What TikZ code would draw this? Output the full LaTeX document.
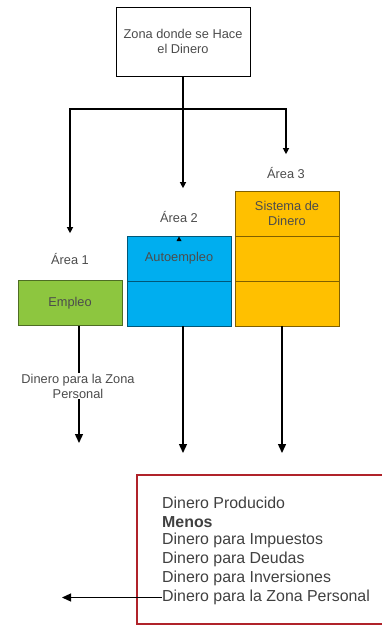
\documentclass[tikz,border=0pt]{standalone}
\usepackage{fontspec}
\setmainfont{Liberation Sans}
\usetikzlibrary{arrows.meta,positioning}
\definecolor{verde}{HTML}{8DC63F}
\definecolor{azul}{HTML}{00AEEF}
\definecolor{oro}{HTML}{FFC000}
\definecolor{rojo}{HTML}{B0232A}
\tikzset{
  etiqueta/.style={font=\fontsize{12.8}{15}\selectfont, text=black!70, align=center, inner sep=0pt},
  celda/.style={etiqueta, minimum width=104pt, minimum height=45pt, line width=0.9pt},
  flecha/.style={line width=1.4pt, -{Triangle[width=8pt,length=9pt]}},
  flechita/.style={line width=1.2pt, -{Triangle[width=6pt,length=6pt]}},
  linea/.style={anchor=west, inner sep=0pt, font=\fontsize{15.9}{18}\selectfont, text=black!75}
}
\begin{document}
\begin{tikzpicture}[x=1pt,y=-1pt]
  \useasboundingbox (0,0) rectangle (381,628);
  % zona de arriba
  \node[draw, etiqueta, minimum width=134pt, minimum height=69pt, line width=0.9pt] (zona) at (183,41.5) {Zona donde se Hace\\el Dinero};
  \coordinate (nudo) at (183,109);
  % areas
  \node[etiqueta] (a1) at (70,259) {Área 1};
  \node[etiqueta] (a2) at (179,217) {Área 2};
  \node[etiqueta] (a3) at (286,173) {Área 3};
  \node[celda, fill=verde, draw=verde!55!black] (empleo) at (70,303) {Empleo};
  \node[celda, fill=azul, draw=azul!50!black] (auto) at (179,258.5) {Autoempleo};
  \node[celda, fill=azul, draw=azul!50!black] (azul2) at (179,303.5) {};
  \node[celda, fill=oro, draw=oro!50!black] (sistema) at (287,213.5) {Sistema de\\Dinero};
  \node[celda, fill=oro, draw=oro!50!black] (oro2) at (287,258.5) {};
  \node[celda, fill=oro, draw=oro!50!black] (oro3) at (287,303.5) {};
  \fill (179,236.5) -- (176.5,241) -- (181.5,241) -- cycle;
  % ramas
  \draw[line width=1.2pt] (zona.south) -- (nudo);
  \draw[flechita, shorten >=20pt] (nudo) -| (a1.north);
  \draw[flechita, shorten >=23pt] (nudo) -- (nudo |- a2.north);
  \draw[flechita, shorten >=13pt] (nudo) -| (a3.north);
  % dinero hacia abajo
  \coordinate (fin1) at (79,443);
  \coordinate (fin2) at (183,453);
  \coordinate (fin3) at (282,453);
  \draw[flecha] (empleo.south -| fin1) -- (fin1);
  \draw[flecha] (azul2.south -| fin2) -- (fin2);
  \draw[flecha] (oro3.south -| fin3) -- (fin3);
  \node[etiqueta, fill=white, inner sep=1pt] (zonap) at (78,386) {Dinero para la Zona\\Personal};
  % resumen
  \node[draw=rojo, line width=1.6pt, minimum width=248pt, minimum height=149pt] (resumen) at (261,549.5) {};
  \foreach \t [count=\i] in {Dinero Producido, {\textbf{Menos}}, Dinero para Impuestos, Dinero para Deudas, Dinero para Inversiones, Dinero para la Zona Personal}
    \node[linea] (l\i) at (162,{503+18.9*(\i-1)}) {\t};
  \coordinate (salida) at (62,597);
  \draw[flecha, line width=1.2pt] (l6.west) -- (l6.west -| salida);
\end{tikzpicture}
\end{document}
